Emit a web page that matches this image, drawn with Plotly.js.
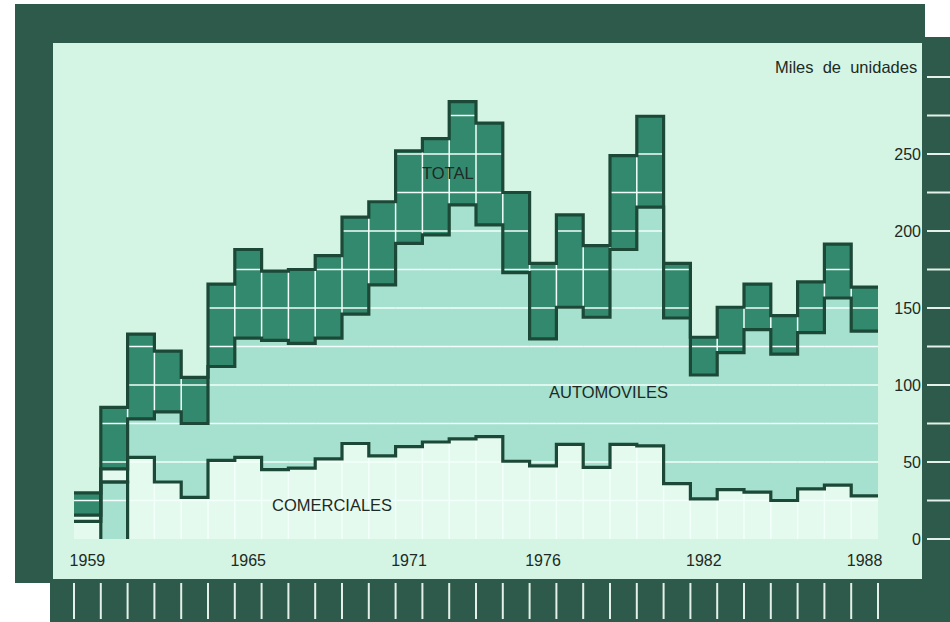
<!DOCTYPE html>
<html>
<head>
<meta charset="utf-8">
<script src="https://cdn.plot.ly/plotly-3.0.1.min.js"></script>
<style>
  html, body { margin: 0; padding: 0; background: #ffffff; }
  #chart { width: 950px; height: 622px; }
</style>
</head>
<body>
<div id="chart"></div>
<script>
// ---------------- DATA (miles de unidades) ----------------
const years = [1959, 1960, 1961, 1962, 1963, 1964, 1965, 1966, 1967, 1968,
               1969, 1970, 1971, 1972, 1973, 1974, 1975, 1976, 1977, 1978,
               1979, 1980, 1981, 1982, 1983, 1984, 1985, 1986, 1987, 1988];
const comerciales = [11.5, 37, 53, 37, 27, 51, 53, 45, 46, 52,
                     62, 54, 60, 63, 65, 66.5, 50.5, 47.5, 61.5, 46.5,
                     61.5, 60.5, 36, 26, 32, 30.5, 25, 32.5, 35, 28];
const automoviles = [15.5, 45.5, 78, 82.5, 75, 112, 130.5, 129, 127, 130.5,
                     146, 165, 192, 197.5, 217, 204, 173, 130, 150.5, 144,
                     188, 215.5, 143.5, 106.5, 121, 136, 120, 134, 156.5, 135];
const total = [30, 85.5, 133, 122, 105, 165.5, 188, 174, 175, 184,
               209, 219, 252, 260, 284, 270, 225, 179, 210.5, 190.5,
               249, 274.5, 179, 131, 150.5, 165.5, 145, 167, 191.5, 163.5];
const xTickYears = [1959, 1965, 1971, 1976, 1982, 1988];
const xTickLabels = ['1959', '1965', '1971', '1976', '1982', '1988'];
const yTickValues = [0, 50, 100, 150, 200, 250];
const yTickLabels = ['0', '50', '100', '150', '200', '250'];
const gridLevels = [25, 50, 75, 100, 125, 150, 175, 200, 225, 250, 275];
const stripLevels = [0, 25, 50, 75, 100, 125, 150, 175, 200, 225, 250, 275, 300];
const tealBarYears = [1960];        // year whose commercial area is printed in teal
const lightGapYears = [1959, 1960]; // years whose com..auto gap is printed light

// ---------------- STYLE ----------------
const W = 950, H = 622;
const px = v => v / W;
const py = v => 1 - v / H;
const C = {
  frame: '#2d5a4a',
  panel: '#d4f5e4',
  com: '#e4faef',
  auto: '#a5e1ce',
  band: '#33896d',
  outline: '#1c4838',
  grid: '#f3fffa',
  tick: '#e4f1ea',
  text: '#1d2a25'
};
const FONT = 'Liberation Sans, Arial, Helvetica, sans-serif';

// ---------------- helpers ----------------
const last = years.length - 1;
function step(vals) {
  const x = years.map(y => y - 0.5).concat([years[last] + 0.5]);
  const y = vals.slice().concat([vals[last]]);
  return { x, y };
}
function fillTrace(vals, color) {
  const s = step(vals);
  return { type: 'scatter', mode: 'lines', x: s.x, y: s.y,
           line: { shape: 'hv', width: 0, color: color },
           fill: 'tozeroy', fillcolor: color, hoverinfo: 'skip', showlegend: false };
}
function lineTrace(vals) {
  const s = step(vals);
  return { type: 'scatter', mode: 'lines', x: s.x, y: s.y,
           line: { shape: 'hv', width: 3.2, color: C.outline },
           hoverinfo: 'skip', showlegend: false };
}

const traces = [];
traces.push(fillTrace(total, C.band));
traces.push(fillTrace(automoviles, C.auto));
traces.push(fillTrace(comerciales, C.com));

// special printed areas of the first years
lightGapYears.forEach(yr => {
  const i = years.indexOf(yr);
  traces.push({ type: 'scatter', mode: 'lines',
    x: [yr - 0.5, yr + 0.5, yr + 0.5, yr - 0.5, yr - 0.5],
    y: [comerciales[i], comerciales[i], automoviles[i], automoviles[i], comerciales[i]],
    fill: 'toself', fillcolor: C.com, line: { width: 0, color: C.com },
    hoverinfo: 'skip', showlegend: false });
});
tealBarYears.forEach(yr => {
  const i = years.indexOf(yr);
  traces.push({ type: 'scatter', mode: 'lines',
    x: [yr - 0.5, yr + 0.5, yr + 0.5, yr - 0.5, yr - 0.5],
    y: [0, 0, comerciales[i], comerciales[i], 0],
    fill: 'toself', fillcolor: C.auto, line: { width: 0, color: C.auto },
    hoverinfo: 'skip', showlegend: false });
});

// white grid, only inside the printed areas
const gx = [], gy = [];
years.forEach((yr, i) => {
  gridLevels.forEach(L => {
    if (L < total[i] - 1) { gx.push(yr - 0.5, yr + 0.5, null); gy.push(L, L, null); }
  });
});
for (let i = 0; i < last; i++) {
  const xb = years[i] + 0.5;
  const lo = Math.max(automoviles[i], automoviles[i + 1]);
  const hi = Math.min(total[i], total[i + 1]);
  if (hi > lo) { gx.push(xb, xb, null); gy.push(lo, hi, null); }
  const ch = Math.min(comerciales[i], comerciales[i + 1]);
  if (ch > 0) { gx.push(xb, xb, null); gy.push(0, ch, null); }
}
traces.push({ type: 'scatter', mode: 'lines', x: gx, y: gy,
  line: { width: 1.5, color: C.grid }, hoverinfo: 'skip', showlegend: false });

// dark outlines
traces.push(lineTrace(total));
traces.push(lineTrace(automoviles));
traces.push(lineTrace(comerciales));
tealBarYears.forEach(yr => {
  const i = years.indexOf(yr);
  traces.push({ type: 'scatter', mode: 'lines',
    x: [yr - 0.5, yr - 0.5, yr + 0.5, yr + 0.5],
    y: [0, comerciales[i], comerciales[i], 0],
    line: { width: 3.2, color: C.outline }, hoverinfo: 'skip', showlegend: false });
});

// ---------------- frame & strips ----------------
const shapes = [
  { type: 'rect', xref: 'paper', yref: 'paper', layer: 'below',
    x0: px(15), x1: px(925), y0: py(583), y1: py(4), fillcolor: C.frame, line: { width: 0 } },
  { type: 'rect', xref: 'paper', yref: 'paper', layer: 'below',
    x0: px(50), x1: px(950), y0: py(622), y1: py(37), fillcolor: C.frame, line: { width: 0 } },
  { type: 'rect', xref: 'paper', yref: 'paper', layer: 'below',
    x0: px(53), x1: px(922), y0: py(579), y1: py(43), fillcolor: C.panel, line: { width: 0 } }
];
// year boundary ticks on the bottom strip
years.map(y => y - 0.5).concat([years[last] + 0.5]).forEach(xb => {
  shapes.push({ type: 'line', xref: 'x', yref: 'paper', layer: 'above',
    x0: xb, x1: xb, y0: py(583), y1: py(619), line: { color: C.tick, width: 2 } });
});
// value ticks on the right strip
stripLevels.forEach(v => {
  shapes.push({ type: 'line', xref: 'paper', yref: 'y', layer: 'above',
    x0: px(927), x1: px(950), y0: v, y1: v, line: { color: C.tick, width: 2 } });
});

const annFont = { family: FONT, size: 16.5, color: C.text };
const annotations = [
  { text: 'TOTAL', x: px(448), y: py(172.5), xref: 'paper', yref: 'paper',
    showarrow: false, font: annFont, xanchor: 'center', yanchor: 'middle' },
  { text: 'AUTOMOVILES', x: px(608), y: py(392), xref: 'paper', yref: 'paper',
    showarrow: false, font: annFont, xanchor: 'center', yanchor: 'middle' },
  { text: 'COMERCIALES', x: px(332), y: py(505), xref: 'paper', yref: 'paper',
    showarrow: false, font: annFont, xanchor: 'center', yanchor: 'middle' },
  { text: 'Miles\u00a0 de\u00a0 unidades', x: px(919), y: py(67), xref: 'paper', yref: 'paper',
    showarrow: false, font: { family: FONT, size: 16.5, color: C.text }, xanchor: 'right', yanchor: 'middle' }
];

// axis geometry: 1958.5 -> 74px, 1988.5 -> 878px ; 0 -> 539px, 1 unit = 1.54px
const pxPerYear = (878 - 74) / 30;
const xr = [1958.3, 1988.7];
const xLeft = 74 - 0.2 * pxPerYear, xRight = 878 + 0.2 * pxPerYear;
const pxPerUnit = 1.54;
const yr = [-3, 320];
const yBottom = 539 + 3 * pxPerUnit, yTop = 539 - 320 * pxPerUnit;

const layout = {
  width: W, height: H,
  margin: { l: 0, r: 0, t: 0, b: 0, pad: 0 },
  paper_bgcolor: '#ffffff',
  plot_bgcolor: 'rgba(0,0,0,0)',
  showlegend: false,
  hovermode: false,
  xaxis: {
    domain: [px(xLeft), px(xRight)], range: xr, anchor: 'y',
    showgrid: false, zeroline: false, showline: false, ticks: '',
    tickvals: xTickYears, ticktext: xTickLabels, ticklabelstandoff: 5,
    tickfont: { family: FONT, size: 16, color: C.text }, fixedrange: true, automargin: false
  },
  yaxis: {
    domain: [py(yBottom), py(yTop)], range: yr, anchor: 'free', position: px(921), side: 'left',
    showgrid: false, zeroline: false, showline: false, ticks: '',
    tickvals: yTickValues, ticktext: yTickLabels,
    tickfont: { family: FONT, size: 16, color: C.text }, fixedrange: true, automargin: false
  },
  shapes: shapes,
  annotations: annotations
};

Plotly.newPlot('chart', traces, layout, { staticPlot: true, displayModeBar: false });
</script>
</body>
</html>
